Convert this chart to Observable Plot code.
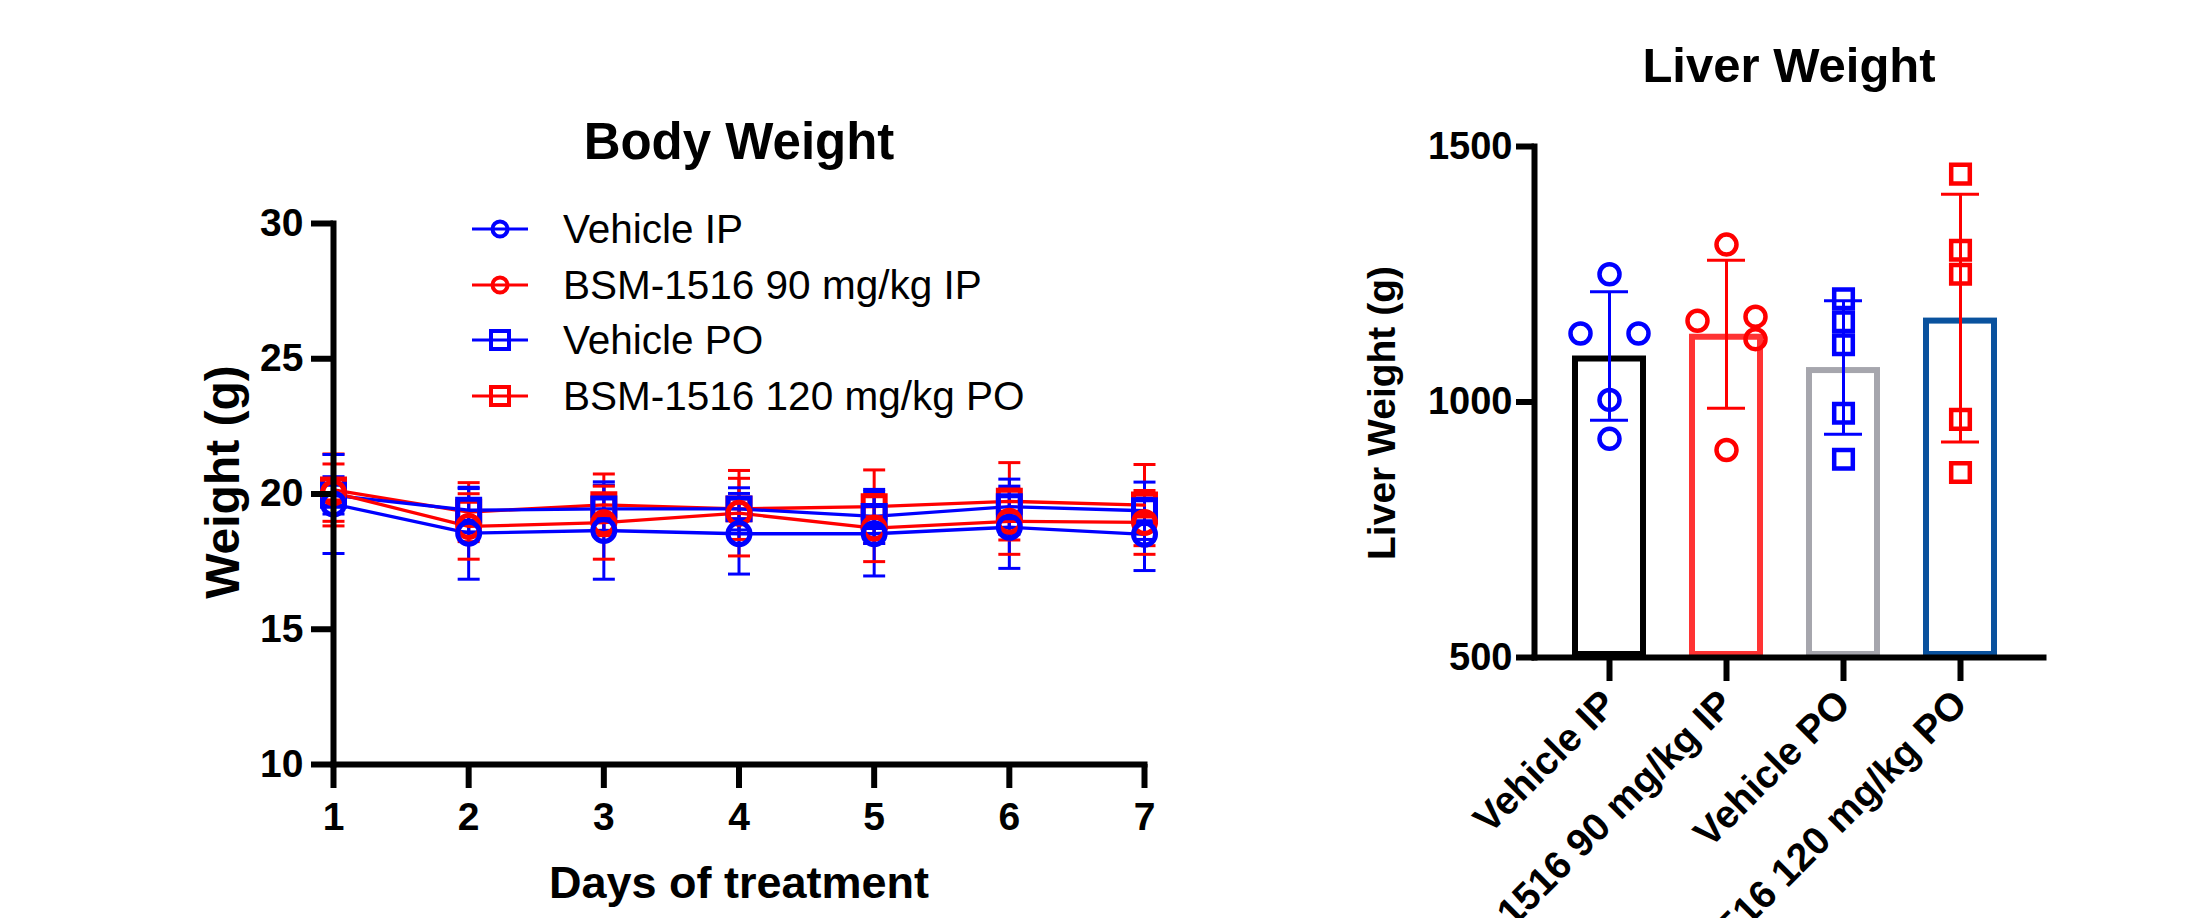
<!DOCTYPE html>
<html><head><meta charset="utf-8">
<script src="https://cdn.jsdelivr.net/npm/d3@7"></script>
<script src="https://cdn.jsdelivr.net/npm/@observablehq/plot@0.6"></script>
<style>
body{margin:0;background:#fff;}
#wrap{position:relative;width:2187px;height:918px;overflow:hidden;background:#fff;font-family:"Liberation Sans",Arial,Helvetica,sans-serif;}
#left{position:absolute;left:0;top:0;}
#right{position:absolute;left:1300px;top:0;}
.lrow{position:absolute;left:470px;height:50px;width:600px;}
.lrow svg{position:absolute;left:0;top:10px;}
.lrow span{position:absolute;left:93px;top:0;line-height:50px;font-size:40.5px;color:#000;white-space:nowrap;}
</style></head><body>
<div id="wrap"><div id="left"></div><div id="right"></div><div id="legend"></div></div>
<script>
// ---------- Body weight data ----------
const days = [1, 2, 3, 4, 5, 6, 7];
const seriesNames = ["Vehicle IP", "BSM-1516 90 mg/kg IP", "Vehicle PO", "BSM-1516 120 mg/kg PO"];
const vehicleIPMean = [19.63, 18.55, 18.65, 18.53, 18.53, 18.77, 18.51];
const vehicleIPSD   = [1.83, 1.70, 1.80, 1.49, 1.56, 1.52, 1.34];
const bsm90IPMean   = [20.05, 18.80, 18.94, 19.29, 18.74, 18.99, 18.95];
const bsm90IPSD     = [1.06, 1.21, 1.35, 1.58, 1.24, 1.22, 1.18];
const vehiclePOMean = [19.95, 19.40, 19.45, 19.45, 19.17, 19.53, 19.38];
const vehiclePOSD   = [0.69, 0.80, 0.88, 0.78, 1.00, 1.02, 1.06];
const bsm120POMean  = [20.15, 19.33, 19.60, 19.45, 19.53, 19.73, 19.59];
const bsm120POSD    = [1.33, 1.09, 1.14, 1.13, 1.36, 1.43, 1.50];
const bodyTicks = [10, 15, 20, 25, 30];

// ---------- Liver weight data ----------
const liverGroups = ["Vehicle IP", "BSM-1516 90 mg/kg IP", "Vehicle PO", "BSM-1516 120 mg/kg PO"];
const liverVehicleIP = [1250, 1134, 1134, 1004, 928];
const liverBSM90IP   = [1308, 1159, 1167, 1123, 906];
const liverVehiclePO = [1202, 1157, 1112, 978, 888];
const liverBSM120PO  = [1446, 1297, 1250, 966, 862];
// horizontal scatter slot of each animal (-1 left, 0 centre, 1 right)
const slotVehicleIP = [0, -1, 1, 0, 0];
const slotBSM90IP   = [0, -1, 1, 1, 0];
const slotVehiclePO = [0, 0, 0, 0, 0];
const slotBSM120PO  = [0, 0, 0, 0, 0];
const liverTicks = [500, 1000, 1500];

// ---------- styles ----------
const FONT = '"Liberation Sans", Arial, Helvetica, sans-serif';
const seriesColor = ["#0000ff", "#ff0000", "#0000ff", "#ff0000"];
const seriesSymbol = ["circle", "circle", "square", "square"];
const barColor = ["#000000", "#ff3333", "#a6a6ad", "#0a529e"];
const pointColor = ["#0000ff", "#ff0000", "#0000ff", "#ff0000"];

// ---------- build tables ----------
const means = [vehicleIPMean, bsm90IPMean, vehiclePOMean, bsm120POMean];
const sds = [vehicleIPSD, bsm90IPSD, vehiclePOSD, bsm120POSD];
const body = [];
for (let i = seriesNames.length - 1; i >= 0; i--) {
  days.forEach((d, j) => body.push({group: seriesNames[i], day: d, mean: means[i][j], sd: sds[i][j]}));
}
const liverValues = [liverVehicleIP, liverBSM90IP, liverVehiclePO, liverBSM120PO];
const liverSlots = [slotVehicleIP, slotBSM90IP, slotVehiclePO, slotBSM120PO];
const liver = [];
liverGroups.forEach((g, i) => liverValues[i].forEach((v, j) => liver.push({group: g, gi: i, value: v, slot: liverSlots[i][j]})));
const liverSummary = liverGroups.map((g, i) => ({group: g, gi: i, mean: d3.mean(liverValues[i]), sd: d3.deviation(liverValues[i])}));

const hline = {draw(ctx, size) { const w = Math.sqrt(size / Math.PI); ctx.moveTo(-w, 0); ctx.lineTo(w, 0); }};
const isCircle = d => seriesSymbol[seriesNames.indexOf(d.group)] === "circle";

// ---------- left chart ----------
const left = Plot.plot({
  width: 1180, height: 918,
  marginLeft: 333, marginRight: 36, marginTop: 223, marginBottom: 154,
  style: {fontFamily: FONT, background: "transparent", color: "black", overflow: "visible"},
  x: {domain: [1, 7]},
  y: {domain: [10, 30]},
  color: {domain: seriesNames, range: seriesColor},
  symbol: {domain: seriesNames, range: seriesSymbol},
  marks: [
    Plot.ruleX(body, {x: "day", y1: d => d.mean - d.sd, y2: d => d.mean + d.sd, stroke: "group", strokeWidth: 3}),
    Plot.dot(body, {x: "day", y: d => d.mean + d.sd, symbol: hline, r: 11, stroke: "group", strokeWidth: 3}),
    Plot.dot(body, {x: "day", y: d => d.mean - d.sd, symbol: hline, r: 11, stroke: "group", strokeWidth: 3}),
    Plot.line(body, {x: "day", y: "mean", z: "group", stroke: "group", strokeWidth: 3.3}),
    Plot.dot(body, {filter: d => !isCircle(d), x: "day", y: "mean", symbol: "group", stroke: "group", r: 12.4, strokeWidth: 5, fill: "none"}),
    Plot.dot(body, {filter: isCircle, x: "day", y: "mean", symbol: "group", stroke: "group", r: 11, strokeWidth: 5, fill: "none"}),
    Plot.axisY({ticks: bodyTicks, tickSize: 22, tickPadding: 8, fontSize: 39, fontWeight: "bold", strokeWidth: 6, label: null}),
    Plot.axisX({ticks: days, tickSize: 24, tickPadding: 14, fontSize: 39, fontWeight: "bold", strokeWidth: 6, label: null, tickFormat: d3.format("d")}),
    Plot.frame({anchor: "left", strokeWidth: 6, strokeLinecap: "square"}),
    Plot.frame({anchor: "bottom", strokeWidth: 6, strokeLinecap: "square"}),
    Plot.text(["Body Weight"], {frameAnchor: "top", dy: -65, lineAnchor: "bottom", fontSize: 51, fontWeight: "bold"}),
    Plot.text(["Days of treatment"], {frameAnchor: "bottom", dy: 133, lineAnchor: "bottom", fontSize: 45, fontWeight: "bold"}),
    Plot.text(["Weight (g)"], {frameAnchor: "left", textAnchor: "middle", dx: -110, dy: -12, rotate: -90, fontSize: 48, fontWeight: "bold"})
  ]
});
document.getElementById("left").appendChild(left);

// ---------- right chart ----------
const dotMarks = [];
[-1, 0, 1].forEach(s => {
  dotMarks.push(Plot.dot(liver, {filter: d => d.slot === s && liverGroups[d.gi].includes("IP"), x: "group", y: "value", dx: s * 29, symbol: "circle", r: 10, stroke: d => pointColor[d.gi], strokeWidth: 4.5, fill: "none"}));
  dotMarks.push(Plot.dot(liver, {filter: d => d.slot === s && liverGroups[d.gi].includes("PO"), x: "group", y: "value", dx: s * 29, symbol: "square", r: 10.5, stroke: d => pointColor[d.gi], strokeWidth: 4.5, fill: "none"}));
});

const right = Plot.plot({
  width: 887, height: 918,
  marginLeft: 234, marginRight: 144, marginTop: 146, marginBottom: 261,
  style: {fontFamily: FONT, background: "transparent", color: "black", overflow: "visible"},
  x: {domain: liverGroups, paddingInner: 0.37, paddingOuter: 0.342, align: 0.45},
  y: {domain: [500, 1500], clamp: true},
  color: {type: "identity"},
  marks: [
    Plot.barY(liverSummary, {x: "group", y: "mean", fill: "white", stroke: d => barColor[d.gi], strokeWidth: 6, inset: 3}),
    Plot.ruleX(liverSummary, {x: "group", y1: d => d.mean - d.sd, y2: d => d.mean + d.sd, stroke: d => pointColor[d.gi], strokeWidth: 3}),
    Plot.tickY(liverSummary, {x: "group", y: d => d.mean + d.sd, stroke: d => pointColor[d.gi], strokeWidth: 3, insetLeft: 18, insetRight: 18}),
    Plot.tickY(liverSummary, {x: "group", y: d => d.mean - d.sd, stroke: d => pointColor[d.gi], strokeWidth: 3, insetLeft: 18, insetRight: 18}),
    ...dotMarks,
    Plot.axisY({ticks: liverTicks, tickSize: 18, tickPadding: 4, fontSize: 38, fontWeight: "bold", strokeWidth: 6, label: null, tickFormat: d3.format("d")}),
    Plot.axisX({tickSize: 24, tickPadding: 16, tickRotate: -45, fontSize: 39, fontWeight: "bold", strokeWidth: 6, label: null}),
    Plot.frame({anchor: "left", strokeWidth: 6, strokeLinecap: "square"}),
    Plot.frame({anchor: "bottom", strokeWidth: 6, strokeLinecap: "square"}),
    Plot.text(["Liver Weight"], {frameAnchor: "top", dy: -65, lineAnchor: "bottom", fontSize: 49, fontWeight: "bold"}),
    Plot.text(["Liver Weight (g)"], {frameAnchor: "left", textAnchor: "middle", dx: -152, dy: 11, rotate: -90, fontSize: 39, fontWeight: "bold"})
  ]
});
document.getElementById("right").appendChild(right);

// ---------- legend ----------
const legend = document.getElementById("legend");
seriesNames.forEach((name, i) => {
  const row = document.createElement("div");
  row.className = "lrow";
  row.style.top = (229 + 55.5 * i - 25) + "px";
  const c = seriesColor[i];
  const marker = seriesSymbol[i] === "circle"
    ? `<circle cx="30" cy="15" r="7.5" fill="none" stroke="${c}" stroke-width="4"/>`
    : `<rect x="21" y="6" width="18" height="18" fill="none" stroke="${c}" stroke-width="4"/>`;
  row.innerHTML = `<svg width="62" height="30"><line x1="2" x2="58" y1="15" y2="15" stroke="${c}" stroke-width="3"/>${marker}</svg><span>${name}</span>`;
  legend.appendChild(row);
});
</script>
</body></html>
